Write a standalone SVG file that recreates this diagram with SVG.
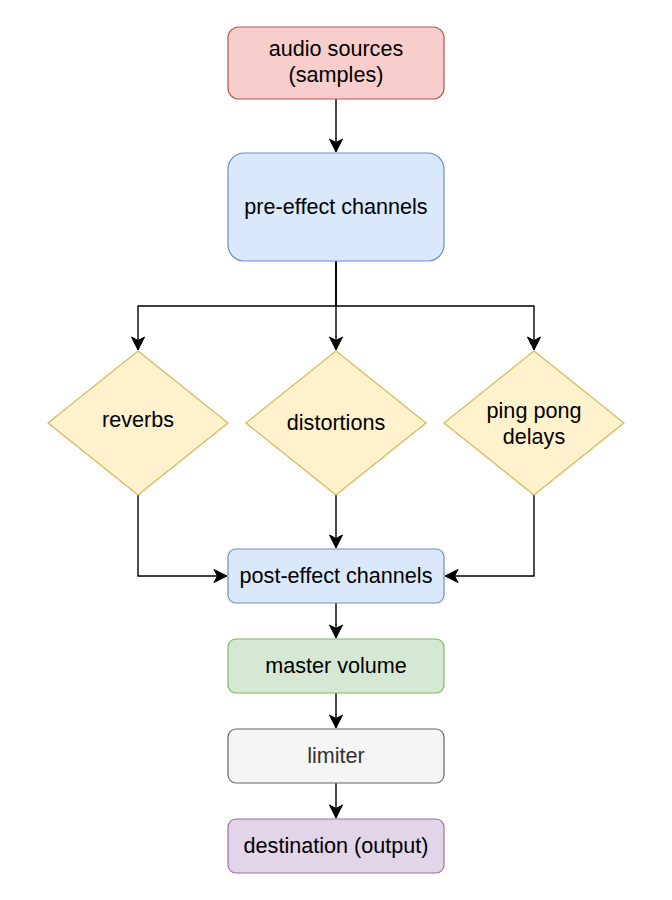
<svg xmlns="http://www.w3.org/2000/svg" width="672" height="900" viewBox="0 0 672 900">
<style>
  .lbl { font-family: "Liberation Sans", Arial, Helvetica, sans-serif; font-size: 21.6px; text-anchor: middle; fill: #000000; }
  .node { stroke-width: 1.2; }
  .red { fill: #f8cecc; stroke: #b85450; }
  .blue { fill: #dae8fc; stroke: #6c8ebf; }
  .yellow { fill: #fff2cc; stroke: #d6b656; }
  .green { fill: #d5e8d4; stroke: #82b366; }
  .grey { fill: #f5f5f5; stroke: #666666; }
  .purple { fill: #e1d5e7; stroke: #9673a6; }
  .edge { fill: none; stroke: #000000; stroke-width: 1.4; marker-end: url(#arrow); }
</style>
<defs>
  <marker id="arrow" markerUnits="userSpaceOnUse" viewBox="-15 -8 16 16" refX="0" refY="0" markerWidth="16" markerHeight="16" orient="auto">
    <path d="M0,0 L-13,-6.5 L-9.5,0 L-13,6.5 Z" fill="#000000" stroke="#000000" stroke-width="1"/>
  </marker>
</defs>
<rect width="672" height="900" fill="#ffffff"/>
<g id="connectors">
  <path class="edge" d="M336 99 V152"/>
  <path class="edge" d="M336 261 V306 H138 V350"/>
  <path class="edge" d="M336 261 V350"/>
  <path class="edge" d="M336 261 V306 H534 V350"/>
  <path class="edge" d="M138 495 V576 H227"/>
  <path class="edge" d="M336 495 V548"/>
  <path class="edge" d="M534 495 V576 H445"/>
  <path class="edge" d="M336 603 V638"/>
  <path class="edge" d="M336 693 V728"/>
  <path class="edge" d="M336 783 V818"/>
</g>
<g id="audio-sources">
  <rect class="node red" x="228" y="27" width="216" height="72" rx="10.8"/>
  <text class="lbl" x="336" y="56">audio sources</text>
  <text class="lbl" x="336" y="82">(samples)</text>
</g>
<g id="pre-effect">
  <rect class="node blue" x="228" y="153" width="216" height="108" rx="16.2"/>
  <text class="lbl" x="336" y="214">pre-effect channels</text>
</g>
<g id="reverbs">
  <polygon class="node yellow" points="138,351 228,423 138,495 48,423"/>
  <text class="lbl" x="138" y="427">reverbs</text>
</g>
<g id="distortions">
  <polygon class="node yellow" points="336,351 426,423 336,495 246,423"/>
  <text class="lbl" x="336" y="430">distortions</text>
</g>
<g id="ping-pong">
  <polygon class="node yellow" points="534,351 624,423 534,495 444,423"/>
  <text class="lbl" x="534" y="417.5">ping pong</text>
  <text class="lbl" x="534" y="443.5">delays</text>
</g>
<g id="post-effect">
  <rect class="node blue" x="228" y="549" width="216" height="54" rx="8.1"/>
  <text class="lbl" x="336" y="583">post-effect channels</text>
</g>
<g id="master-volume">
  <rect class="node green" x="228" y="639" width="216" height="54" rx="8.1"/>
  <text class="lbl" x="336" y="673">master volume</text>
</g>
<g id="limiter">
  <rect class="node grey" x="228" y="729" width="216" height="54" rx="8.1"/>
  <text class="lbl" x="336" y="763" style="fill:#333333">limiter</text>
</g>
<g id="destination">
  <rect class="node purple" x="228" y="819" width="216" height="54" rx="8.1"/>
  <text class="lbl" x="336" y="853">destination (output)</text>
</g>
</svg>
